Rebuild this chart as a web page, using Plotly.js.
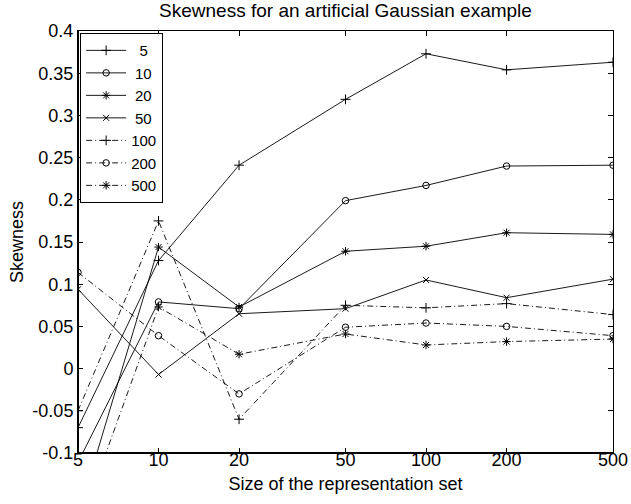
<!DOCTYPE html>
<html>
<head>
<meta charset="utf-8">
<script src="https://cdn.plot.ly/plotly-3.0.1.min.js"></script>
<style>html,body{margin:0;padding:0;background:#fff;}#chart{width:631px;height:504px;}</style>
</head>
<body>
<div id="chart"></div>
<script>
// Representation set sizes (x)
const sizes = [5, 10, 20, 50, 100, 200, 500];
const xTickLabels = ["5", "10", "20", "50", "100", "200", "500"];
const yTickVals = [-0.1, -0.05, 0, 0.05, 0.1, 0.15, 0.2, 0.25, 0.3, 0.35, 0.4];
const yTickLabels = ["-0.1", "-0.05", "0", "0.05", "0.1", "0.15", "0.2", "0.25", "0.3", "0.35", "0.4"];

// Series names (legend)
const seriesNames = ["5", "10", "20", "50", "100", "200", "500"];

// Skewness values per series
const s5   = [-0.070, 0.128, 0.241, 0.319, 0.373, 0.354, 0.363];
const s10  = [-0.111, 0.079, 0.071, 0.199, 0.217, 0.240, 0.241];
const s20  = [-0.175, 0.144, 0.073, 0.139, 0.145, 0.161, 0.159];
const s50  = [0.094, -0.007, 0.065, 0.071, 0.105, 0.084, 0.106];
const s100 = [-0.050, 0.175, -0.060, 0.075, 0.072, 0.077, 0.064];
const s200 = [0.114, 0.039, -0.030, 0.049, 0.054, 0.050, 0.039];
const s500 = [-0.192, 0.073, 0.017, 0.041, 0.028, 0.032, 0.035];

const seriesValues = [s5, s10, s20, s50, s100, s200, s500];
const symbols = ["cross-thin-open", "circle-open", "asterisk-open", "x-thin-open", "cross-thin-open", "circle-open", "asterisk-open"];
const markerSizes = [7, 6.5, 7, 6, 7, 6.5, 7];
const dashes = ["solid", "solid", "solid", "solid", "6px,3px,1px,3px", "6px,3px,1px,3px", "6px,3px,1px,3px"];

function padName(n) {
  if (n.length === 1) return "\u2007" + n;
  if (n.length === 2) return "\u2005" + n;
  return n;
}

const traces = seriesValues.map((vals, i) => ({
  x: sizes,
  y: vals,
  name: padName(seriesNames[i]),
  type: "scatter",
  mode: "lines+markers",
  line: {color: "#000", width: 0.9, dash: dashes[i]},
  marker: {symbol: symbols[i], size: markerSizes[i], color: "#000", line: {color: "#000", width: 1}}
}));

const fontFam = "Liberation Sans, Arial, Helvetica, sans-serif";
const L = 77.7, R = 18.3, T = 30.7, B = 51.3;

const layout = {
  width: 631, height: 504,
  margin: {l: L, r: R, t: T, b: B, pad: 0},
  paper_bgcolor: "#fff", plot_bgcolor: "#fff",
  font: {family: fontFam, size: 18, color: "#000"},
  title: {text: "Skewness for an artificial Gaussian example", font: {family: fontFam, size: 19, color: "#000"},
          x: 0.5, xref: "paper", xanchor: "center", y: 1 - 10/504, yanchor: "middle"},
  showlegend: true,
  legend: {x: 0.004, y: 0.995, xanchor: "left", yanchor: "top", bgcolor: "#fff", bordercolor: "#000", borderwidth: 1,
           font: {family: fontFam, size: 15, color: "#000"}, itemwidth: 40, tracegroupgap: 0},
  xaxis: {
    type: "log", range: [Math.log10(5), Math.log10(500)],
    tickvals: sizes, ticktext: xTickLabels,
    ticks: "inside", ticklen: 5, tickwidth: 1, tickcolor: "#000",
    ticklabelstandoff: -10,
    showline: true, linecolor: "#000", linewidth: 1, mirror: "ticks",
    showgrid: false, zeroline: false,
    tickfont: {family: fontFam, size: 18, color: "#000"},
    title: {text: "Size of the representation set", font: {family: fontFam, size: 18, color: "#000"}, standoff: 8}
  },
  yaxis: {
    range: [-0.1, 0.4],
    tickvals: yTickVals, ticktext: yTickLabels,
    ticks: "inside", ticklen: 5, tickwidth: 1, tickcolor: "#000",
    showline: true, linecolor: "#000", linewidth: 1, mirror: "ticks",
    showgrid: false, zeroline: false,
    tickfont: {family: fontFam, size: 18, color: "#000"},
    title: {text: "Skewness", font: {family: fontFam, size: 18, color: "#000"}, standoff: 4}
  },
  shapes: [
    {type: "line", xref: "paper", yref: "paper", x0: 0, x1: 1, y0: 0, y1: 0, line: {color: "#000", width: 2}},
    {type: "line", xref: "paper", yref: "paper", x0: 0, x1: 0, y0: 0, y1: 1, line: {color: "#000", width: 2}}
  ]
};

Plotly.newPlot("chart", traces, layout, {displayModeBar: false, staticPlot: true});
</script>
</body>
</html>
